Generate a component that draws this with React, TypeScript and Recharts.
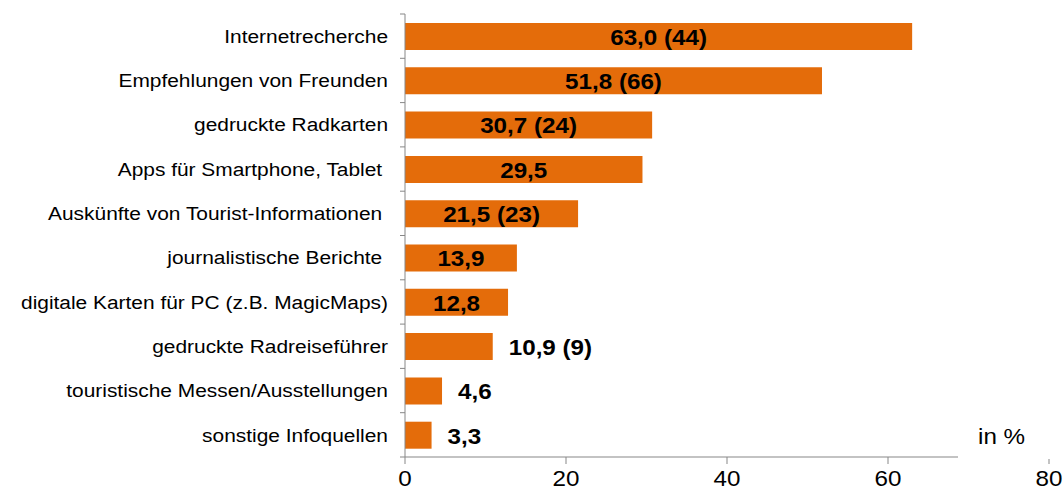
import { Bar, BarChart, LabelList, XAxis, YAxis } from 'recharts';

const categories = [
  'Internetrecherche',
  'Empfehlungen von Freunden',
  'gedruckte Radkarten',
  'Apps für Smartphone, Tablet\u00a0',
  'Auskünfte von Tourist-Informationen\u00a0',
  'journalistische Berichte\u00a0',
  'digitale Karten für PC (z.B. MagicMaps)',
  'gedruckte Radreiseführer',
  'touristische Messen/Ausstellungen',
  'sonstige Infoquellen',
];
const shares = [63.0, 51.8, 30.7, 29.5, 21.5, 13.9, 12.8, 10.9, 4.6, 3.3];
const inParens = ['44', '66', '24', '', '23', '', '', '9', '', ''];
const xTicks = [0, 20, 40, 60, 80];

const data = categories.map((name, i) => ({ name, value: shares[i], note: inParens[i] }));

const W = 1064;
const H = 495;
const TOP = 14;
const X_AXIS_H = 38;
const BAND = (H - TOP - X_AXIS_H) / categories.length;
const FONT = '"Liberation Sans", Arial, sans-serif';
const AXIS_COLOR = '#878787';
const STRETCH = 'scale(1.1,1)';

function CategoryTick({ x, y, payload, index }: any) {
  const lineX = x + 12; // tickMargin back to the axis side
  return (
    <g>
      <line x1={lineX} x2={lineX + 5} y1={y - BAND / 2} y2={y - BAND / 2} stroke={AXIS_COLOR} />
      {index === categories.length - 1 && (
        <line x1={lineX} x2={lineX + 5} y1={y + BAND / 2} y2={y + BAND / 2} stroke={AXIS_COLOR} />
      )}
      <g transform={`translate(${x},${y})`}>
        <text transform={STRETCH} textAnchor="end" dy="0.35em" fontSize={19} fill="#000" fontFamily={FONT}>
          {payload.value}
        </text>
      </g>
    </g>
  );
}

function ValueTick({ x, y, payload }: any) {
  return (
    <g transform={`translate(${x},${y})`}>
      <text transform={STRETCH} textAnchor="middle" dy="0.71em" fontSize={22} fill="#000" fontFamily={FONT}>
        {payload.value}
      </text>
    </g>
  );
}

function BarLabel(props: any) {
  const { x, y, width, height, index } = props;
  const d = data[index];
  const text = d.value.toFixed(1).replace('.', ',') + (d.note ? ` (${d.note})` : '');
  const inside = d.value > 12;
  const tx = inside ? x + width / 2 : x + width + 16;
  return (
    <g transform={`translate(${tx},${y + height / 2})`}>
      <text
        transform={STRETCH}
        textAnchor={inside ? 'middle' : 'start'}
        dy="0.38em"
        fontSize={22}
        fontWeight="bold"
        fill="#000"
        fontFamily={FONT}
      >
        {text}
      </text>
    </g>
  );
}

export default function App() {
  return (
    <div style={{ position: 'absolute', left: 0, top: 0, width: W, height: H, background: '#fff' }}>
      <BarChart
        width={W}
        height={H}
        data={data}
        layout="vertical"
        margin={{ top: TOP, right: 15, left: 0, bottom: 0 }}
      >
        <XAxis
          type="number"
          domain={[0, 80]}
          ticks={xTicks}
          height={X_AXIS_H}
          tickSize={7}
          tickMargin={6}
          stroke={AXIS_COLOR}
          tick={<ValueTick />}
        />
        <YAxis
          type="category"
          dataKey="name"
          width={405}
          tickLine={false}
          tickSize={5}
          tickMargin={12}
          stroke={AXIS_COLOR}
          tick={<CategoryTick />}
          interval={0}
        />
        <Bar dataKey="value" fill="#E46C0A" barSize={27} isAnimationActive={false}>
          <LabelList dataKey="value" content={<BarLabel />} />
        </Bar>
      </BarChart>
      <div
        style={{
          position: 'absolute',
          left: 958,
          top: 418,
          width: W - 958,
          height: 41,
          background: '#fff',
        }}
      >
        <span
          style={{
            position: 'absolute',
            left: 20,
            top: 6,
            fontFamily: FONT,
            fontSize: 22,
            lineHeight: '26px',
            color: '#000',
            transform: 'scaleX(1.1)',
            transformOrigin: 'left',
            whiteSpace: 'nowrap',
          }}
        >
          in %
        </span>
      </div>
    </div>
  );
}
